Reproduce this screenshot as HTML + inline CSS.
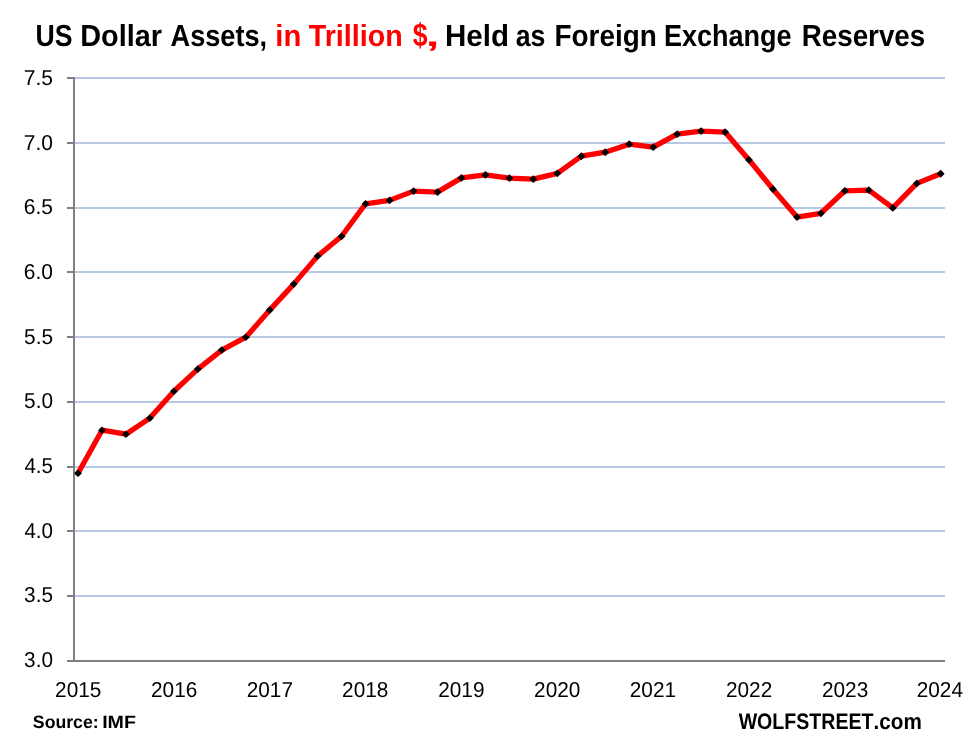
<!DOCTYPE html>
<html lang="en">
<head>
<meta charset="utf-8">
<title>US Dollar Assets Held as Foreign Exchange Reserves</title>
<style>
html,body{margin:0;padding:0;background:#fff;}
body{width:966px;height:745px;overflow:hidden;}
svg{display:block;will-change:transform;}
text{font-family:"Liberation Sans",sans-serif;fill:#000;text-rendering:geometricPrecision;}
.b{font-weight:700;}
.r{fill:#ff0000;}
</style>
</head>
<body>
<svg width="966" height="745" viewBox="0 0 966 745">

<g stroke="#b7c8e2" stroke-width="2" fill="none">
<line x1="75" y1="78.00" x2="945" y2="78.00"/>
<line x1="75" y1="143.00" x2="945" y2="143.00"/>
<line x1="75" y1="208.00" x2="945" y2="208.00"/>
<line x1="75" y1="272.00" x2="945" y2="272.00"/>
<line x1="75" y1="337.00" x2="945" y2="337.00"/>
<line x1="75" y1="402.00" x2="945" y2="402.00"/>
<line x1="75" y1="467.00" x2="945" y2="467.00"/>
<line x1="75" y1="531.00" x2="945" y2="531.00"/>
<line x1="75" y1="596.00" x2="945" y2="596.00"/>
</g>
<g stroke="#808080" stroke-width="2" fill="none">
<line x1="74" y1="77" x2="74" y2="662"/>
<line x1="67" y1="661.00" x2="945" y2="661.00"/>
<line x1="67" y1="78.00" x2="74" y2="78.00"/>
<line x1="67" y1="143.00" x2="74" y2="143.00"/>
<line x1="67" y1="208.00" x2="74" y2="208.00"/>
<line x1="67" y1="272.00" x2="74" y2="272.00"/>
<line x1="67" y1="337.00" x2="74" y2="337.00"/>
<line x1="67" y1="402.00" x2="74" y2="402.00"/>
<line x1="67" y1="467.00" x2="74" y2="467.00"/>
<line x1="67" y1="531.00" x2="74" y2="531.00"/>
<line x1="67" y1="596.00" x2="74" y2="596.00"/>
</g>
<polyline points="78.0,473.2 102.0,430.2 125.9,434.2 149.9,418.1 173.9,391.2 197.8,369.1 221.8,350.1 245.8,337.2 269.7,310.1 293.7,284.1 317.6,256.1 341.6,236.3 365.6,203.8 389.5,200.4 413.5,191.1 437.5,192.1 461.4,177.9 485.4,174.9 509.4,178.1 533.3,179.1 557.3,173.3 581.3,156.2 605.2,152.2 629.2,144.2 653.2,147.2 677.1,134.2 701.1,131.1 725.1,132.1 749.0,159.9 773.0,189.2 797.0,217.1 820.9,213.3 844.9,190.8 868.8,190.2 892.8,207.9 916.8,183.4 940.7,173.8" fill="none" stroke="#ff0000" stroke-width="5.3" stroke-linejoin="round" stroke-linecap="round"/>
<g fill="#000000">
<path d="M78.0 469.4L81.9 473.2L78.0 477.1L74.1 473.2Z"/>
<path d="M102.0 426.4L105.9 430.2L102.0 434.1L98.1 430.2Z"/>
<path d="M125.9 430.4L129.8 434.2L125.9 438.1L122.0 434.2Z"/>
<path d="M149.9 414.2L153.8 418.1L149.9 422.0L146.0 418.1Z"/>
<path d="M173.9 387.4L177.8 391.2L173.9 395.1L170.0 391.2Z"/>
<path d="M197.8 365.2L201.7 369.1L197.8 373.0L193.9 369.1Z"/>
<path d="M221.8 346.2L225.7 350.1L221.8 353.9L217.9 350.1Z"/>
<path d="M245.8 333.4L249.7 337.2L245.8 341.1L241.9 337.2Z"/>
<path d="M269.7 306.2L273.6 310.1L269.7 313.9L265.8 310.1Z"/>
<path d="M293.7 280.2L297.6 284.1L293.7 287.9L289.8 284.1Z"/>
<path d="M317.6 252.2L321.5 256.1L317.6 260.0L313.8 256.1Z"/>
<path d="M341.6 232.4L345.5 236.3L341.6 240.2L337.7 236.3Z"/>
<path d="M365.6 199.9L369.5 203.8L365.6 207.8L361.7 203.8Z"/>
<path d="M389.5 196.5L393.4 200.4L389.5 204.3L385.6 200.4Z"/>
<path d="M413.5 187.2L417.4 191.1L413.5 195.0L409.6 191.1Z"/>
<path d="M437.5 188.2L441.4 192.1L437.5 196.0L433.6 192.1Z"/>
<path d="M461.4 174.0L465.3 177.9L461.4 181.8L457.5 177.9Z"/>
<path d="M485.4 171.0L489.3 174.9L485.4 178.8L481.5 174.9Z"/>
<path d="M509.4 174.2L513.3 178.1L509.4 182.0L505.5 178.1Z"/>
<path d="M533.3 175.2L537.2 179.1L533.3 183.0L529.4 179.1Z"/>
<path d="M557.3 169.4L561.2 173.3L557.3 177.2L553.4 173.3Z"/>
<path d="M581.3 152.3L585.2 156.2L581.3 160.2L577.4 156.2Z"/>
<path d="M605.2 148.3L609.1 152.2L605.2 156.2L601.3 152.2Z"/>
<path d="M629.2 140.2L633.1 144.2L629.2 148.1L625.3 144.2Z"/>
<path d="M653.2 143.2L657.1 147.2L653.2 151.1L649.3 147.2Z"/>
<path d="M677.1 130.2L681.0 134.2L677.1 138.1L673.2 134.2Z"/>
<path d="M701.1 127.2L705.0 131.1L701.1 135.0L697.2 131.1Z"/>
<path d="M725.1 128.2L729.0 132.1L725.1 136.0L721.2 132.1Z"/>
<path d="M749.0 156.0L752.9 159.9L749.0 163.8L745.1 159.9Z"/>
<path d="M773.0 185.2L776.9 189.2L773.0 193.1L769.1 189.2Z"/>
<path d="M797.0 213.2L800.9 217.1L797.0 221.0L793.1 217.1Z"/>
<path d="M820.9 209.4L824.8 213.3L820.9 217.2L817.0 213.3Z"/>
<path d="M844.9 186.9L848.8 190.8L844.9 194.8L841.0 190.8Z"/>
<path d="M868.8 186.2L872.7 190.2L868.8 194.1L864.9 190.2Z"/>
<path d="M892.8 204.0L896.7 207.9L892.8 211.8L888.9 207.9Z"/>
<path d="M916.8 179.5L920.7 183.4L916.8 187.3L912.9 183.4Z"/>
<path d="M940.7 169.8L944.6 173.8L940.7 177.7L936.8 173.8Z"/>
</g>
<g font-size="21.6">
<text x="23.80" y="84.85" textLength="29.25" lengthAdjust="spacingAndGlyphs">7.5</text>
<text x="23.80" y="149.54" textLength="29.19" lengthAdjust="spacingAndGlyphs">7.0</text>
<text x="23.85" y="214.23" textLength="29.19" lengthAdjust="spacingAndGlyphs">6.5</text>
<text x="23.85" y="278.92" textLength="29.14" lengthAdjust="spacingAndGlyphs">6.0</text>
<text x="24.07" y="343.61" textLength="28.97" lengthAdjust="spacingAndGlyphs">5.5</text>
<text x="24.07" y="408.30" textLength="28.92" lengthAdjust="spacingAndGlyphs">5.0</text>
<text x="24.44" y="472.99" textLength="28.59" lengthAdjust="spacingAndGlyphs">4.5</text>
<text x="24.44" y="537.68" textLength="28.54" lengthAdjust="spacingAndGlyphs">4.0</text>
<text x="24.12" y="602.37" textLength="28.92" lengthAdjust="spacingAndGlyphs">3.5</text>
<text x="24.12" y="667.06" textLength="28.86" lengthAdjust="spacingAndGlyphs">3.0</text>
</g>
<g font-size="21.6">
<text x="55.06" y="696.8" textLength="46.32" lengthAdjust="spacingAndGlyphs">2015</text>
<text x="151.03" y="696.8" textLength="46.32" lengthAdjust="spacingAndGlyphs">2016</text>
<text x="246.71" y="696.8" textLength="46.32" lengthAdjust="spacingAndGlyphs">2017</text>
<text x="342.08" y="696.8" textLength="46.32" lengthAdjust="spacingAndGlyphs">2018</text>
<text x="438.21" y="696.8" textLength="46.32" lengthAdjust="spacingAndGlyphs">2019</text>
<text x="534.08" y="696.8" textLength="46.32" lengthAdjust="spacingAndGlyphs">2020</text>
<text x="629.79" y="696.8" textLength="46.32" lengthAdjust="spacingAndGlyphs">2021</text>
<text x="725.91" y="696.8" textLength="46.32" lengthAdjust="spacingAndGlyphs">2022</text>
<text x="821.93" y="696.8" textLength="46.32" lengthAdjust="spacingAndGlyphs">2023</text>
<text x="916.68" y="696.8" textLength="46.32" lengthAdjust="spacingAndGlyphs">2024</text>
</g>
<text class="b" font-size="30.4" y="45.5">
<tspan x="35.40" y="45.5" textLength="37.04" lengthAdjust="spacingAndGlyphs">US</tspan>
<tspan x="80.25" y="45.5" textLength="81.75" lengthAdjust="spacingAndGlyphs">Dollar</tspan>
<tspan x="170.52" y="45.5" textLength="96.62" lengthAdjust="spacingAndGlyphs">Assets,</tspan>
<tspan class="r" x="275.36" y="45.5" textLength="25.93" lengthAdjust="spacingAndGlyphs">in</tspan>
<tspan class="r" x="308.81" y="45.5" textLength="93.92" lengthAdjust="spacingAndGlyphs">Trillion</tspan>
<tspan class="r" font-size="32.5" x="412.67" y="46.3" textLength="14.80" lengthAdjust="spacingAndGlyphs">$</tspan><tspan class="r" x="425.75" y="45.5" textLength="13.69" lengthAdjust="spacingAndGlyphs">,</tspan>
<tspan x="445.01" y="45.5" textLength="63.97" lengthAdjust="spacingAndGlyphs">Held</tspan>
<tspan x="515.70" y="45.5" textLength="29.73" lengthAdjust="spacingAndGlyphs">as</tspan>
<tspan x="554.41" y="45.5" textLength="102.41" lengthAdjust="spacingAndGlyphs">Foreign</tspan>
<tspan x="664.08" y="45.5" textLength="127.55" lengthAdjust="spacingAndGlyphs">Exchange</tspan>
<tspan x="801.73" y="45.5" textLength="123.51" lengthAdjust="spacingAndGlyphs">Reserves</tspan>
</text>
<text class="b" font-size="17.9" y="728.3">
<tspan x="32.87" textLength="65.82" lengthAdjust="spacingAndGlyphs">Source:</tspan>
<tspan x="102.17" textLength="33.85" lengthAdjust="spacingAndGlyphs">IMF</tspan>
</text>
<text class="b" font-size="22.4" y="728.5">
<tspan x="738.65" textLength="134.86" lengthAdjust="spacingAndGlyphs">WOLFSTREET</tspan><tspan x="873.50" textLength="48.27" lengthAdjust="spacingAndGlyphs">.com</tspan>
</text>
</svg>
</body>
</html>
